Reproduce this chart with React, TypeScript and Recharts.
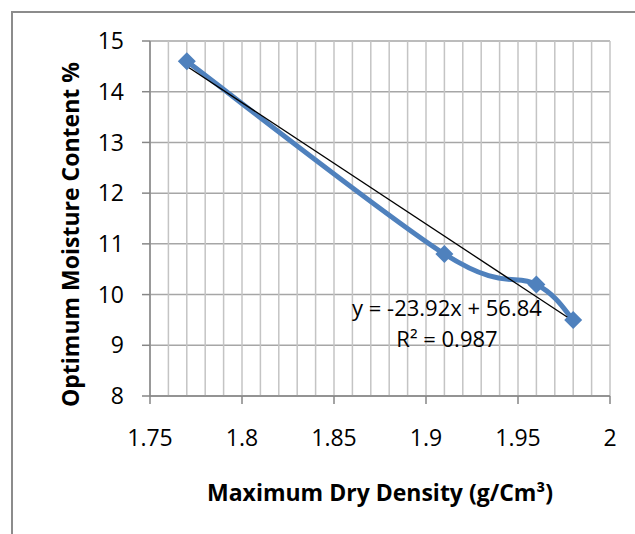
import React from "react";
import {
  ComposedChart,
  Line,
  XAxis,
  YAxis,
  CartesianGrid,
  ReferenceLine,
  ReferenceDot,
} from "recharts";

// Measured points: maximum dry density vs optimum moisture content
const DENSITY = [1.77, 1.91, 1.96, 1.98];
const MOISTURE = [14.6, 10.8, 10.2, 9.5];

// Linear trendline shown on the chart
const TREND_SLOPE = -23.92;
const TREND_INTERCEPT = 56.84;
const TREND_TEXT = "y = -23.92x + 56.84";
const R2_TEXT = "R\u00b2 = 0.987";

const X_TICKS = [1.75, 1.8, 1.85, 1.9, 1.95, 2];
const X_MINOR = [
  1.75, 1.76, 1.77, 1.78, 1.79, 1.8, 1.81, 1.82, 1.83, 1.84, 1.85, 1.86, 1.87,
  1.88, 1.89, 1.9, 1.91, 1.92, 1.93, 1.94, 1.95, 1.96, 1.97, 1.98, 1.99, 2,
];
const Y_TICKS = [8, 9, 10, 11, 12, 13, 14, 15];

const BLUE = "#4F81BD";
const AXIS = "#868686";

const data = DENSITY.map((x, i) => ({
  x,
  omc: MOISTURE[i],
  trend:
    i === 0 || i === DENSITY.length - 1 ? TREND_SLOPE * x + TREND_INTERCEPT : null,
}));

// Excel-like smoothed line (Catmull-Rom through the points)
function excelSmooth(context: any) {
  let pts: number[][] = [];
  return {
    areaStart() {},
    areaEnd() {},
    lineStart() {
      pts = [];
    },
    point(x: number, y: number) {
      pts.push([+x, +y]);
    },
    lineEnd() {
      const n = pts.length;
      if (!n) return;
      context.moveTo(pts[0][0], pts[0][1]);
      for (let i = 0; i < n - 1; i++) {
        const p0 = pts[Math.max(i - 1, 0)];
        const p1 = pts[i];
        const p2 = pts[i + 1];
        const p3 = pts[Math.min(i + 2, n - 1)];
        context.bezierCurveTo(
          p1[0] + (p2[0] - p0[0]) / 6,
          p1[1] + (p2[1] - p0[1]) / 6,
          p2[0] - (p3[0] - p1[0]) / 6,
          p2[1] - (p3[1] - p1[1]) / 6,
          p2[0],
          p2[1]
        );
      }
    },
  };
}

const DiamondDot = (props: any) => {
  const { cx, cy, index } = props;
  if (cx == null || cy == null) return null;
  const s = 9;
  return (
    <path
      key={`d-${index}`}
      d={`M${cx},${cy - s}L${cx + s},${cy}L${cx},${cy + s}L${cx - s},${cy}Z`}
      fill={BLUE}
    />
  );
};

const YTitle = (props: any) => {
  const { viewBox } = props;
  const x = viewBox.x + 70;
  const y = viewBox.y + viewBox.height / 2 + 16;
  return (
    <text
      x={x}
      y={y}
      transform={`rotate(-90 ${x} ${y})`}
      textAnchor="middle"
      dominantBaseline="central"
      fontSize={23}
      fontWeight="bold"
      fill="#000"
    >
      Optimum Moisture Content %
    </text>
  );
};

const XTitle = (props: any) => {
  const { viewBox } = props;
  return (
    <text
      x={viewBox.x + viewBox.width / 2}
      y={viewBox.y + 96}
      textAnchor="middle"
      dominantBaseline="central"
      fontSize={23}
      fontWeight="bold"
      fill="#000"
    >
      Maximum Dry Density (g/Cm{"\u00b3"})
    </text>
  );
};

const TrendLabel = (props: any) => {
  const { viewBox } = props;
  const cx = viewBox.x + viewBox.width / 2;
  const cy = viewBox.y + viewBox.height / 2;
  return (
    <g>
      <text x={cx} y={cy - 15.5} textAnchor="middle" dominantBaseline="central" fontSize={22} fill="#000">
        {TREND_TEXT}
      </text>
      <text x={cx} y={cy + 15.5} textAnchor="middle" dominantBaseline="central" fontSize={22} fill="#000">
        {R2_TEXT}
      </text>
    </g>
  );
};

export default function App() {
  return (
    <div
      style={{
        position: "absolute",
        left: 0,
        top: 0,
        width: 635,
        height: 534,
        overflow: "hidden",
        background: "#fff",
        fontFamily: "'Open Sans', sans-serif",
      }}
    >
      <div
        style={{
          position: "absolute",
          left: 11,
          top: 11,
          width: 700,
          height: 600,
          border: "2px solid #8c8c8c",
        }}
      />
      <div style={{ position: "absolute", left: 0, top: 0 }}>
        <ComposedChart
          width={635}
          height={534}
          data={data}
          margin={{ top: 41, right: 25, left: 0, bottom: 0 }}
        >
          <CartesianGrid vertical={false} stroke="#a6a6a6" strokeWidth={1.5} />
          {X_MINOR.map((v) => (
            <ReferenceLine key={v} x={v} stroke="#c4c4c4" strokeWidth={1.5} />
          ))}
          <XAxis
            dataKey="x"
            type="number"
            domain={[1.75, 2]}
            ticks={X_TICKS}
            allowDataOverflow
            height={138}
            stroke={AXIS}
            strokeWidth={1.5}
            tickSize={8}
            tickMargin={26}
            tick={{ fill: "#000", fontSize: 23 }}
            label={<XTitle />}
          />
          <YAxis
            type="number"
            domain={[8, 15]}
            ticks={Y_TICKS}
            allowDataOverflow
            width={150}
            stroke={AXIS}
            strokeWidth={1.5}
            tickSize={8}
            tickMargin={18}
            tick={{ fill: "#000", fontSize: 23 }}
            label={<YTitle />}
          />
          <Line
            dataKey="omc"
            type={excelSmooth as any}
            stroke={BLUE}
            strokeWidth={5}
            dot={<DiamondDot />}
            activeDot={false}
            isAnimationActive={false}
          />
          <Line
            dataKey="trend"
            type="linear"
            stroke="#000"
            strokeWidth={1.3}
            connectNulls
            dot={false}
            activeDot={false}
            isAnimationActive={false}
          />
          <ReferenceDot
            x={1.9114}
            y={9.45}
            r={1}
            fill="none"
            stroke="none"
            ifOverflow="visible"
            label={<TrendLabel />}
          />
        </ComposedChart>
      </div>
    </div>
  );
}
